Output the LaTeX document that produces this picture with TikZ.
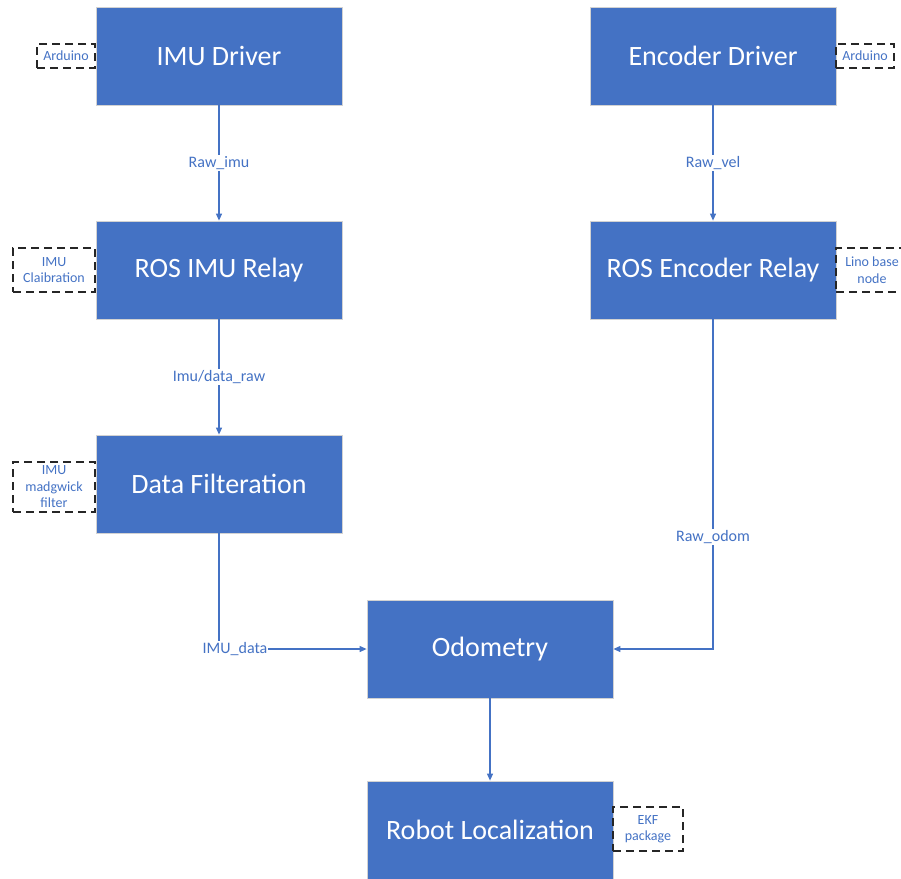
\documentclass[tikz,border=0pt]{standalone}
\usepackage{fontspec}
\setmainfont{Carlito}
\usetikzlibrary{arrows.meta}
\definecolor{boxblue}{HTML}{4472C4}

\begin{document}
\begin{tikzpicture}[
    x=1pt, y=-1pt,
    >={Triangle[length=7pt,width=6pt]},
    block/.style={rectangle, fill=boxblue, draw=gray!35, line width=0.8pt, text=white, font=\fontsize{28}{32}\selectfont, minimum width=246pt, minimum height=98pt, inner sep=0pt},
    note/.style={rectangle, draw=black!85, dash pattern=on 8pt off 5pt, line width=1.3pt, text=boxblue, align=center, font=\fontsize{14}{16.5}\selectfont, inner sep=0pt},
    topic/.style={fill=white, text=boxblue, font=\fontsize{16}{18}\selectfont, inner sep=1pt},
    arrow/.style={->, draw=boxblue, line width=1.1pt}
  ]
    \clip (0,0) rectangle (901,878);

    \node[block] (imudrv) at (219,56) {IMU Driver};
    \node[block] (encdrv) at (713,56) {Encoder Driver};
    \node[block] (imurelay) at (219,270) {ROS IMU Relay};
    \node[block] (encrelay) at (713,270) {ROS Encoder Relay};
    \node[block] (filter) at (219,484) {Data Filteration};
    \node[block] (odom) at (490,649) {Odometry};
    \node[block] (local) at (490,830) {Robot Localization};

    \node[note, minimum width=58pt, minimum height=24pt] (ardleft) at (66,56) {Arduino};
    \node[note, minimum width=58pt, minimum height=24pt] (ardright) at (865,56) {Arduino};
    \node[note, minimum width=82pt, minimum height=44pt] (calib) at (54,270) {IMU\\Claibration};
    \node[note, minimum width=72pt, minimum height=44pt] (lino) at (872,270) {Lino base\\node};
    \node[note, minimum width=82pt, minimum height=50pt] (madg) at (54,487) {IMU\\madgwick\\filter};
    \node[note, minimum width=70pt, minimum height=44pt] (ekf) at (648,829) {EKF\\package};

    \draw[arrow] (imudrv) -- node[topic] {Raw\_imu} (imurelay);
    \draw[arrow] (imurelay) -- node[topic] {Imu/data\_raw} (filter);
    \draw[arrow] (encdrv) -- node[topic] {Raw\_vel} (encrelay);
    \draw[arrow] (encrelay) |- node[topic, pos=0.33] {Raw\_odom} (odom);
    \draw[arrow] (filter) |- node[topic, pos=0.5, xshift=16pt] {IMU\_data} (odom);
    \draw[arrow] (odom) -- (local);
  \end{tikzpicture}
\end{document}
